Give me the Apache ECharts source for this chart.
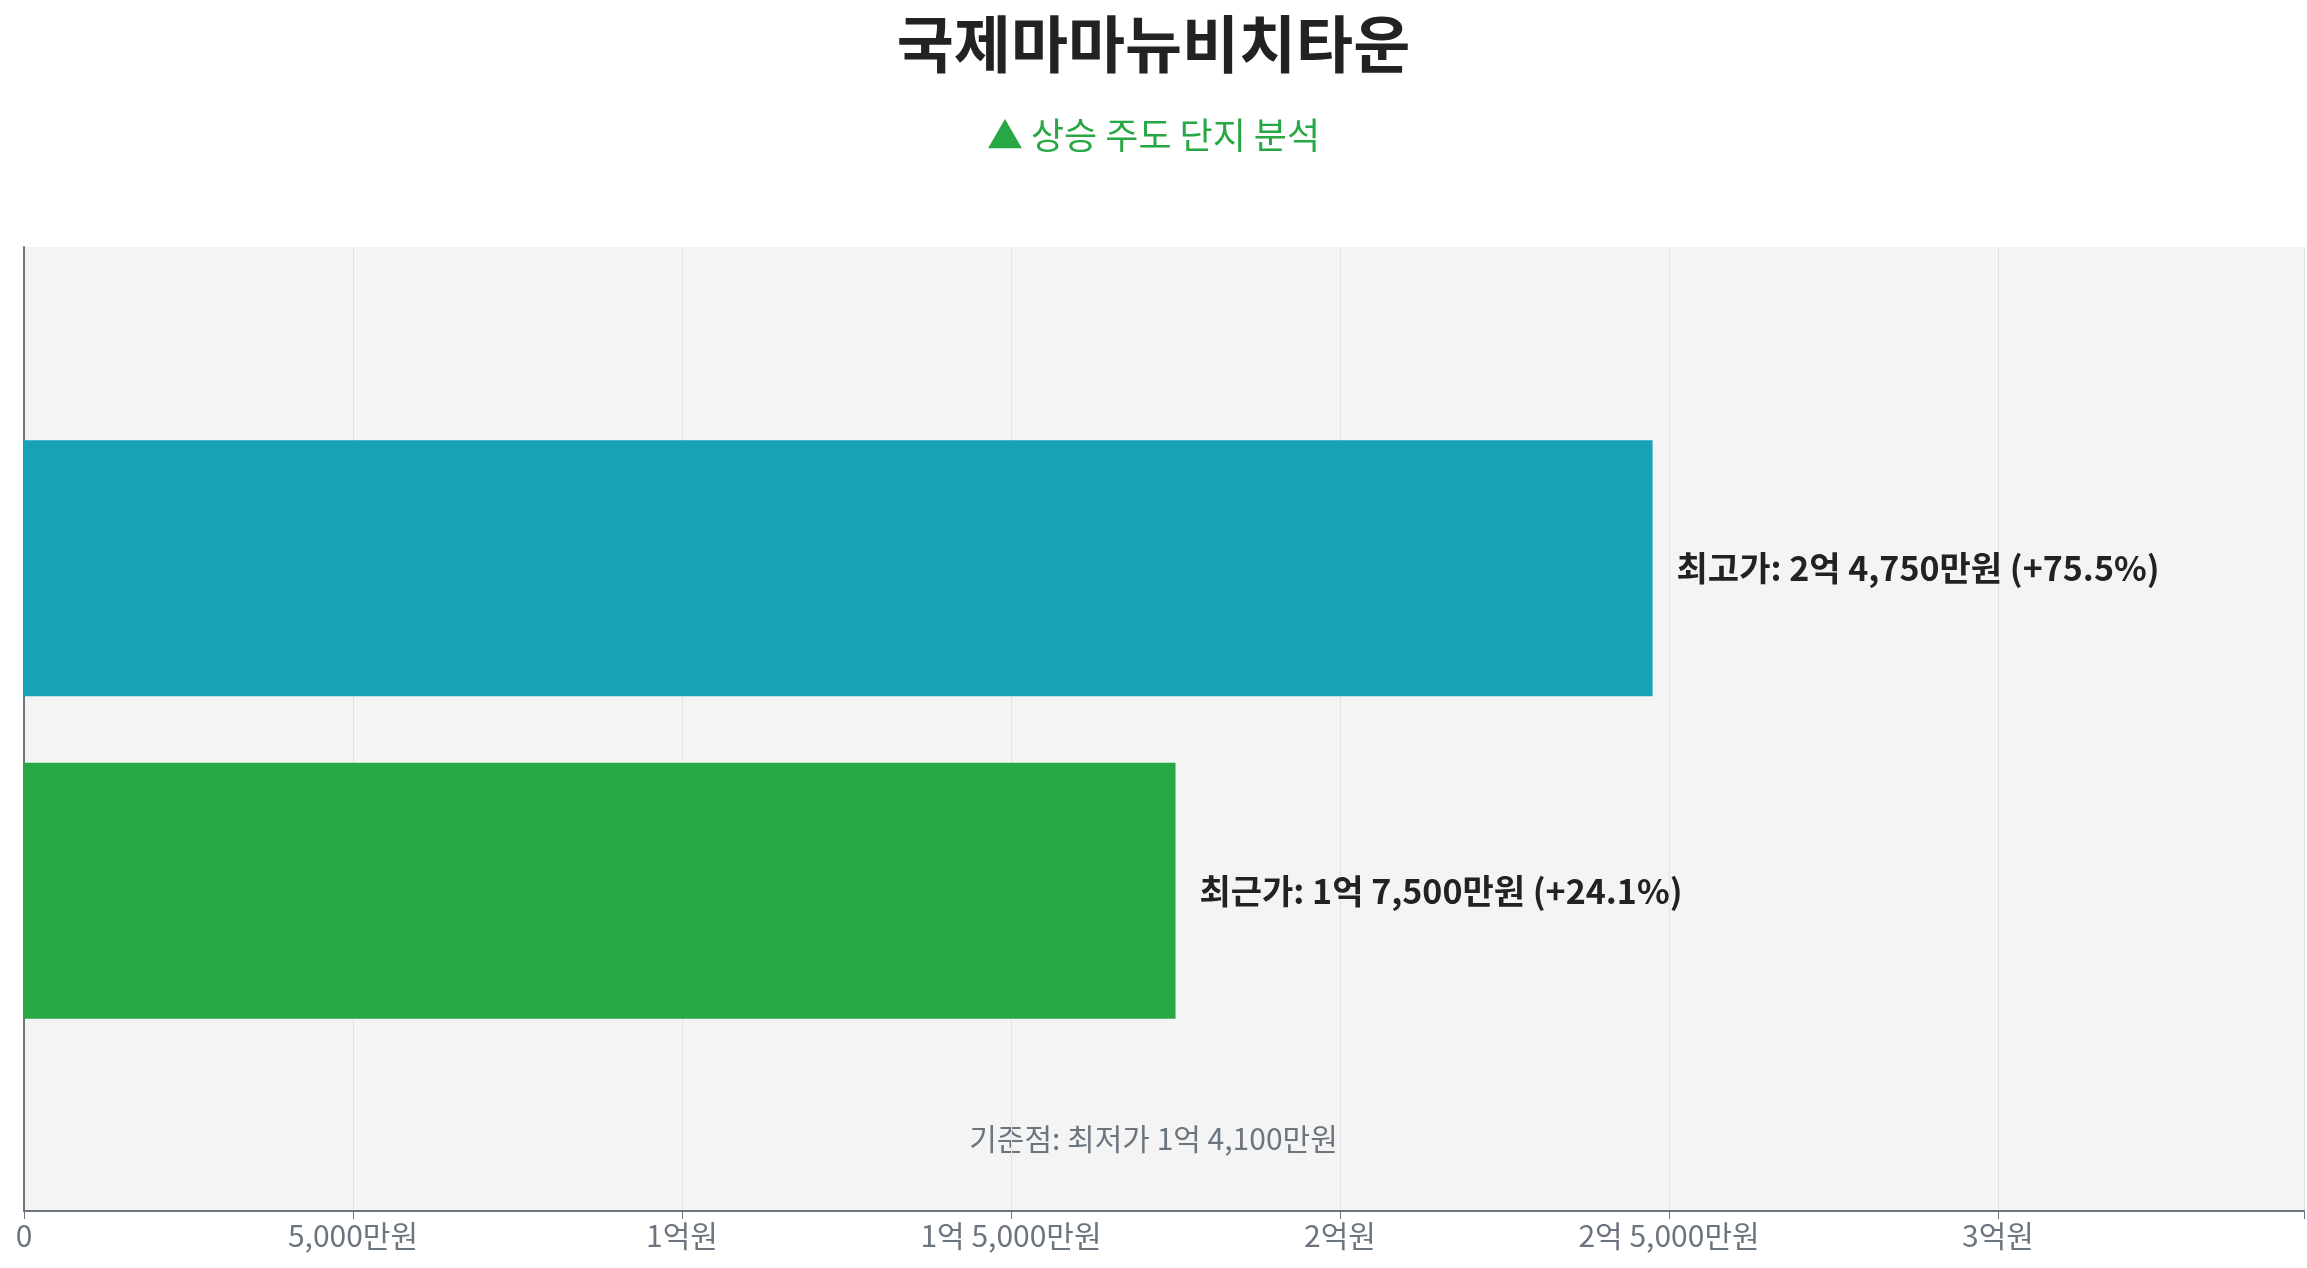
<!DOCTYPE html><html><head><meta charset="utf-8"><script src="https://cdn.jsdelivr.net/npm/echarts@6/dist/echarts.min.js"></script>
<style>html,body{margin:0;padding:0;background:#fff}#c{width:2307px;height:1268px}</style></head><body><div id="c"></div><script>
const categories=['최근가','최고가'];
const values=[17500,24750];
const changes=['+24.1%','+75.5%'];
const colors=['#28a745','#17a2b8'];
const baseLabel='기준점: 최저가 1억 4,100만원';
function won(v){const e=Math.floor(v/10000),m=v%10000;const ms=m?m.toLocaleString('en-US')+'만원':'';
 if(!e)return v===0?'0':ms; return m? e+'억 '+ms : e+'억원';}
const F='"Noto Sans CJK KR","Noto Sans",sans-serif';
const c=echarts.init(document.getElementById('c'));
c.setOption({
 title:[{text:'국제마마뉴비치타운',left:'center',top:8,textStyle:{fontFamily:F,fontSize:62,fontWeight:'bold',color:'#222'}},
  {text:'▲ 상승 주도 단지 분석',left:'center',top:112,textStyle:{fontFamily:F,fontSize:36,fontWeight:'normal',color:'#28a745'}}],
 grid:[{left:24,right:3,top:247,bottom:57,show:true,backgroundColor:'#f4f4f5',borderWidth:0},
       {left:24,right:3,top:407,bottom:216}],
 xAxis:[{gridIndex:0,type:'value',min:0,max:34650,interval:5000,
   axisLine:{show:true,lineStyle:{color:'#6c757d',width:2}},axisTick:{show:true,length:8,lineStyle:{color:'#6c757d'}},
   axisLabel:{fontFamily:F,fontSize:30,color:'#6c757d',margin:10,formatter:v=>v>34000?'':won(v)},
   splitLine:{show:true,lineStyle:{color:'#e2e2e2'}}},
  {gridIndex:1,type:'value',min:0,max:34650,show:false}],
 yAxis:[{gridIndex:0,type:'value',axisLine:{show:true,lineStyle:{color:'#6c757d',width:2}},axisLabel:{show:false},axisTick:{show:false},splitLine:{show:false}},
  {gridIndex:1,type:'category',data:categories,show:false}],
 series:[{type:'bar',xAxisIndex:1,yAxisIndex:1,barWidth:256,
  data:values.map((v,i)=>({value:v,itemStyle:{color:colors[i]}})),
  label:{show:true,position:'right',distance:24,fontFamily:F,fontSize:34,fontWeight:'bold',color:'#222',
   formatter:p=>categories[p.dataIndex]+': '+won(p.value)+' ('+changes[p.dataIndex]+')'}}],
 graphic:[{type:'text',left:'center',top:1124,style:{text:baseLabel,font:'30px '+F,fill:'#6c757d'}}]
});
</script></body></html>
